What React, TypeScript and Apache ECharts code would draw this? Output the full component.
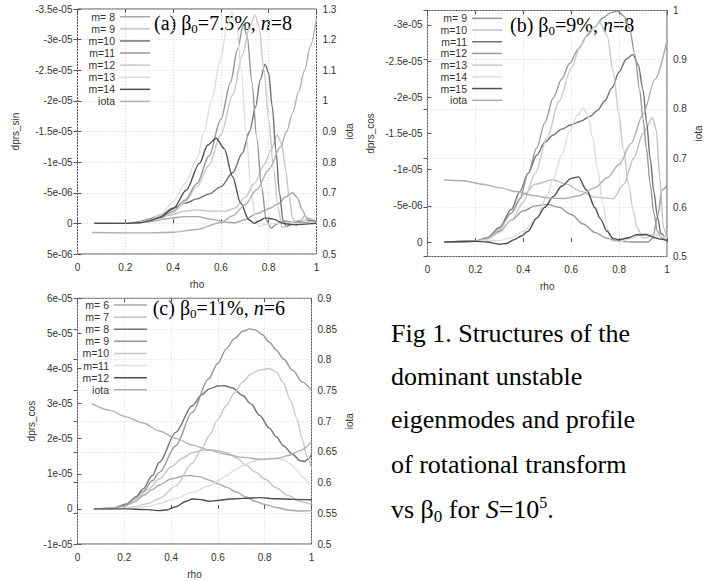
import React, { useEffect, useRef } from "react";
import * as echarts from "echarts";

// ---------- data (dprs values in units of 1e-5; iota raw) ----------
// (a) beta0 = 7.5%, n = 8  (dprs_sin)
const aM8 = [[0.07,0],[0.2,0],[0.3,-0.03],[0.38,-0.08],[0.45,-0.11],[0.5,-0.11],[0.56,-0.07],[0.62,-0.02],[0.66,-0.01],[0.7,-0.06],[0.75,-0.16],[0.8,-0.24],[0.84,-0.32],[0.87,-0.43],[0.9,-0.5],[0.92,-0.42],[0.94,-0.22],[0.96,-0.08],[0.98,-0.04],[1.0,-0.03]];
const aM9 = [[0.07,0],[0.2,0],[0.3,-0.04],[0.38,-0.13],[0.45,-0.2],[0.5,-0.22],[0.56,-0.2],[0.62,-0.2],[0.66,-0.25],[0.7,-0.42],[0.74,-0.65],[0.78,-0.95],[0.81,-1.2],[0.835,-1.44],[0.855,-1.3],[0.87,-0.9],[0.885,-0.45],[0.9,-0.08],[0.915,0.04],[0.93,-0.02],[0.95,-0.12],[0.97,-0.08],[1.0,-0.03]];
const aM10 = [[0.07,0],[0.2,0],[0.25,-0.02],[0.3,-0.07],[0.35,-0.14],[0.4,-0.25],[0.45,-0.33],[0.5,-0.4],[0.55,-0.48],[0.6,-0.6],[0.65,-0.83],[0.69,-1.15],[0.72,-1.5],[0.745,-1.9],[0.765,-2.35],[0.785,-2.6],[0.8,-2.45],[0.815,-1.9],[0.83,-1.2],[0.845,-0.5],[0.86,-0.05],[0.875,0.05],[0.9,0],[0.93,-0.04],[0.96,-0.05],[1.0,-0.02]];
const aM11 = [[0.07,0],[0.25,-0.01],[0.3,-0.04],[0.35,-0.1],[0.4,-0.2],[0.45,-0.38],[0.5,-0.65],[0.55,-1.1],[0.6,-1.7],[0.64,-2.3],[0.67,-2.85],[0.694,-3.25],[0.71,-3.05],[0.73,-2.3],[0.75,-1.4],[0.77,-0.6],[0.79,-0.05],[0.81,0.08],[0.83,0.02],[0.86,-0.04],[0.9,-0.02],[1.0,0]];
const aM12 = [[0.07,0],[0.25,-0.01],[0.3,-0.03],[0.35,-0.08],[0.4,-0.18],[0.45,-0.35],[0.5,-0.6],[0.55,-0.95],[0.6,-1.45],[0.65,-2.1],[0.69,-2.75],[0.72,-3.2],[0.743,-3.4],[0.76,-3.2],[0.78,-2.5],[0.8,-1.7],[0.82,-0.9],[0.84,-0.25],[0.855,0.06],[0.87,0.06],[0.89,-0.02],[0.93,-0.05],[1.0,-0.01]];
const aM13 = [[0.07,0],[0.25,-0.01],[0.3,-0.05],[0.35,-0.15],[0.4,-0.35],[0.45,-0.65],[0.5,-1.05],[0.53,-1.5],[0.56,-2.0],[0.6,-2.7],[0.625,-3.2],[0.645,-3.45],[0.665,-3.25],[0.685,-2.5],[0.705,-1.5],[0.725,-0.6],[0.745,-0.05],[0.76,0.05],[0.78,0.02],[0.82,0],[1.0,0]];
const aM14 = [[0.07,0],[0.2,0],[0.26,-0.01],[0.3,-0.04],[0.345,-0.1],[0.4,-0.24],[0.455,-0.54],[0.51,-0.98],[0.545,-1.28],[0.58,-1.39],[0.614,-1.22],[0.648,-0.77],[0.683,-0.33],[0.717,-0.06],[0.74,0],[0.76,-0.04],[0.786,-0.09],[0.82,-0.07],[0.86,0],[0.9,0.02],[1.0,0]];
const aIota = [[0.06,0.57],[0.2,0.569],[0.3,0.569],[0.4,0.571],[0.5,0.58],[0.6,0.603],[0.65,0.625],[0.7,0.66],[0.75,0.71],[0.8,0.775],[0.85,0.85],[0.875,0.9],[0.9,0.96],[0.925,1.03],[0.95,1.1],[0.975,1.18],[1.0,1.27]];

// (b) beta0 = 9%, n = 8  (dprs_cos)
const bM9 = [[0.07,0],[0.2,-0.01],[0.25,-0.05],[0.3,-0.15],[0.35,-0.3],[0.4,-0.43],[0.45,-0.5],[0.5,-0.52],[0.55,-0.48],[0.6,-0.38],[0.65,-0.25],[0.7,-0.13],[0.75,-0.05],[0.8,-0.01],[0.85,0],[0.92,0],[0.94,-0.05],[0.96,-0.35],[0.98,-0.72],[1.0,-0.78]];
const bM10 = [[0.07,0],[0.2,-0.01],[0.25,-0.05],[0.3,-0.18],[0.35,-0.4],[0.4,-0.65],[0.45,-0.8],[0.52,-0.86],[0.58,-0.8],[0.64,-0.7],[0.7,-0.62],[0.775,-0.6],[0.82,-0.8],[0.86,-1.15],[0.9,-1.5],[0.94,-1.72],[0.955,-1.55],[0.97,-0.9],[0.985,-0.2],[1.0,-0.05]];
const bM11 = [[0.07,0],[0.2,-0.01],[0.25,-0.06],[0.3,-0.2],[0.35,-0.45],[0.386,-0.7],[0.42,-0.95],[0.456,-1.2],[0.49,-1.38],[0.525,-1.48],[0.56,-1.56],[0.6,-1.62],[0.64,-1.67],[0.68,-1.74],[0.71,-1.82],[0.74,-1.95],[0.77,-2.13],[0.8,-2.35],[0.83,-2.53],[0.858,-2.59],[0.88,-2.45],[0.9,-2.1],[0.915,-1.65],[0.93,-1.15],[0.945,-0.7],[0.96,-0.35],[0.975,-0.12],[1.0,-0.02]];
const bM12 = [[0.07,0],[0.2,-0.01],[0.25,-0.06],[0.3,-0.2],[0.35,-0.4],[0.386,-0.6],[0.42,-0.95],[0.456,-1.3],[0.49,-1.65],[0.525,-1.99],[0.56,-2.25],[0.594,-2.47],[0.63,-2.67],[0.664,-2.84],[0.7,-2.98],[0.733,-3.1],[0.765,-3.17],[0.796,-3.19],[0.82,-3.12],[0.844,-2.95],[0.865,-2.6],[0.886,-2.1],[0.9,-1.7],[0.914,-1.3],[0.93,-0.8],[0.945,-0.4],[0.96,-0.15],[0.98,-0.05],[1.0,-0.02]];
const bM13 = [[0.07,0],[0.2,-0.01],[0.25,-0.04],[0.3,-0.13],[0.35,-0.3],[0.4,-0.55],[0.45,-0.95],[0.5,-1.45],[0.55,-1.95],[0.6,-2.4],[0.64,-2.72],[0.68,-2.93],[0.72,-3.03],[0.75,-2.85],[0.775,-2.36],[0.8,-1.75],[0.817,-1.3],[0.84,-0.8],[0.858,-0.45],[0.875,-0.2],[0.9,-0.05],[0.95,-0.1],[1.0,-0.05]];
const bM14 = [[0.07,0],[0.3,-0.02],[0.35,-0.06],[0.4,-0.15],[0.456,-0.33],[0.5,-0.65],[0.525,-0.88],[0.56,-1.2],[0.594,-1.53],[0.625,-1.75],[0.65,-1.85],[0.67,-1.75],[0.69,-1.44],[0.71,-1.0],[0.733,-0.52],[0.75,-0.2],[0.765,-0.02],[0.8,0],[0.85,-0.05],[0.9,-0.12],[0.95,-0.1],[1.0,-0.05]];
const bM15 = [[0.07,0],[0.2,-0.01],[0.25,0],[0.3,0.03],[0.33,0.02],[0.36,-0.03],[0.39,-0.08],[0.42,-0.15],[0.456,-0.33],[0.49,-0.48],[0.525,-0.63],[0.56,-0.77],[0.6,-0.88],[0.63,-0.9],[0.664,-0.72],[0.7,-0.47],[0.72,-0.33],[0.75,-0.15],[0.775,-0.05],[0.8,-0.03],[0.84,-0.06],[0.872,-0.1],[0.914,-0.1],[0.95,-0.06],[0.97,-0.04],[1.0,-0.02]];
const bIota = [[0.07,0.656],[0.15,0.654],[0.23,0.647],[0.3,0.64],[0.37,0.632],[0.44,0.624],[0.51,0.619],[0.57,0.618],[0.63,0.623],[0.7,0.64],[0.75,0.66],[0.8,0.687],[0.85,0.73],[0.9,0.789],[0.95,0.86],[1.0,0.94]];

// (c) beta0 = 11%, n = 6  (dprs_cos)
const cM6 = [[0.07,0],[0.15,0],[0.2,0.08],[0.25,0.22],[0.28,0.38],[0.32,0.55],[0.35,0.68],[0.4,0.85],[0.45,0.93],[0.48,0.95],[0.52,0.92],[0.564,0.82],[0.6,0.72],[0.636,0.62],[0.68,0.48],[0.72,0.34],[0.76,0.22],[0.8,0.13],[0.85,0.04],[0.9,-0.03],[0.95,-0.06],[1.0,-0.05]];
const cM7 = [[0.07,0],[0.15,0],[0.2,0.1],[0.25,0.28],[0.3,0.55],[0.35,0.85],[0.4,1.2],[0.45,1.45],[0.49,1.6],[0.53,1.66],[0.564,1.68],[0.6,1.66],[0.636,1.6],[0.68,1.45],[0.72,1.25],[0.76,1.05],[0.8,0.85],[0.85,0.6],[0.9,0.38],[0.95,0.22],[1.0,0.12]];
const cM8 = [[0.07,0],[0.15,0.02],[0.21,0.14],[0.25,0.35],[0.28,0.57],[0.32,0.95],[0.35,1.33],[0.42,2.18],[0.49,2.94],[0.53,3.25],[0.564,3.42],[0.6,3.5],[0.629,3.51],[0.66,3.45],[0.707,3.23],[0.74,3.0],[0.779,2.66],[0.82,2.3],[0.85,2.05],[0.88,1.8],[0.92,1.55],[0.95,1.38],[0.97,1.35],[0.985,1.42],[1.0,1.55]];
const cM9 = [[0.07,0],[0.15,0.02],[0.207,0.12],[0.25,0.33],[0.28,0.5],[0.32,0.8],[0.35,1.04],[0.42,1.8],[0.49,2.75],[0.56,3.7],[0.6,4.15],[0.636,4.56],[0.67,4.85],[0.707,5.06],[0.736,5.13],[0.76,5.1],[0.79,4.96],[0.82,4.75],[0.85,4.52],[0.88,4.27],[0.92,3.95],[0.96,3.62],[1.0,3.38]];
const cM10 = [[0.07,0],[0.2,0.02],[0.25,0.07],[0.3,0.15],[0.35,0.3],[0.42,0.65],[0.49,1.3],[0.53,1.7],[0.564,2.1],[0.6,2.55],[0.636,2.95],[0.67,3.3],[0.707,3.62],[0.74,3.84],[0.779,3.96],[0.82,4.0],[0.85,3.9],[0.879,3.6],[0.91,3.1],[0.936,2.6],[0.96,2.0],[0.98,1.5],[1.0,1.15]];
const cM11 = [[0.07,0],[0.25,0.02],[0.3,0.07],[0.35,0.15],[0.42,0.3],[0.49,0.47],[0.564,0.66],[0.6,0.8],[0.636,0.95],[0.67,1.1],[0.707,1.23],[0.74,1.33],[0.779,1.4],[0.82,1.44],[0.85,1.45],[0.88,1.4],[0.907,1.3],[0.935,1.12],[0.964,0.9],[0.99,0.72],[1.0,0.68]];
const cM12 = [[0.07,0],[0.2,0],[0.3,-0.02],[0.35,-0.05],[0.38,-0.03],[0.42,0.06],[0.464,0.22],[0.49,0.28],[0.52,0.27],[0.564,0.22],[0.6,0.24],[0.65,0.28],[0.707,0.3],[0.779,0.32],[0.85,0.29],[0.92,0.27],[1.0,0.26]];
const cIota = [[0.06,0.729],[0.136,0.718],[0.207,0.707],[0.28,0.697],[0.35,0.684],[0.42,0.672],[0.49,0.661],[0.564,0.653],[0.636,0.646],[0.707,0.641],[0.779,0.638],[0.85,0.639],[0.9,0.644],[0.95,0.652],[1.0,0.666]];

const bLeftTicks = [-3, -2.5, -2, -1.5, -1, -0.5, 0];
const UNIT = 1e-5;

function sci(v: number): string {
  if (Math.abs(v) < 1e-12) return "0";
  const e = Math.floor(Math.log10(Math.abs(v)) + 1e-9);
  const m = Math.round((v / Math.pow(10, e)) * 10) / 10;
  return String(m) + "e" + (e < 0 ? "-" : "+") + String(Math.abs(e)).padStart(2, "0");
}

const SANS = "Liberation Sans";
const SERIF = "Liberation Serif";
const LBL = "#333";
const BORDER = "#555";

function line(name: string, data: number[][], color: string, xi: number, yi: number) {
  return {
    type: "line",
    name,
    data,
    xAxisIndex: xi,
    yAxisIndex: yi,
    showSymbol: false,
    symbol: "none",
    smooth: 0.3,
    smoothMonotone: "x",
    lineStyle: { color, width: 1.4 },
    itemStyle: { color },
    emphasis: { disabled: true },
  };
}

function xAxes(gi: number) {
  return [
    {
      type: "value", gridIndex: gi, min: 0, max: 1, interval: 0.2, position: "bottom",
      name: "rho", nameLocation: "middle", nameGap: 25,
      nameTextStyle: { fontFamily: SANS, fontSize: 10, color: LBL },
      axisLine: { show: false },
      axisTick: { show: true, inside: true, length: 4, lineStyle: { color: BORDER } },
      axisLabel: { fontFamily: SANS, fontSize: 10, color: LBL, margin: 8 },
      splitLine: { show: true, lineStyle: { color: "#d8d8d8", type: [1, 2], width: 1 } },
    },
    {
      type: "value", gridIndex: gi, min: 0, max: 1, interval: 0.2, position: "top",
      axisLine: { show: false },
      axisTick: { show: true, inside: true, length: 4, lineStyle: { color: BORDER } },
      axisLabel: { show: false },
      splitLine: { show: false },
    },
  ];
}

function leftAxis(gi: number, name: string, min: number, max: number, interval: number, inverse: boolean, nameGap: number, custom?: number[]) {
  const ax: any = {
    type: "value", gridIndex: gi, position: "left", min, max, inverse,
    name, nameLocation: "middle", nameGap,
    nameTextStyle: { fontFamily: SANS, fontSize: 10, color: LBL },
    axisLine: { show: false },
    axisTick: { show: true, inside: true, length: 4, lineStyle: { color: BORDER } },
    axisLabel: { fontFamily: SANS, fontSize: 10, color: LBL, margin: 5, formatter: (v: number) => sci(v * UNIT) },
    splitLine: { show: false },
  };
  if (custom) {
    ax.axisLabel.customValues = custom;
    ax.axisTick.customValues = custom;
  } else {
    ax.interval = interval;
  }
  return ax;
}

function rightAxis(gi: number, min: number, max: number, interval: number, nameGap: number) {
  return {
    type: "value", gridIndex: gi, position: "right", min, max, interval,
    name: "iota", nameLocation: "middle", nameGap,
    nameTextStyle: { fontFamily: SANS, fontSize: 10, color: LBL },
    axisLine: { show: false },
    axisTick: { show: true, inside: true, length: 4, lineStyle: { color: BORDER } },
    axisLabel: { fontFamily: SANS, fontSize: 10, color: LBL, margin: 6 },
    splitLine: { show: true, lineStyle: { color: "#d8d8d8", type: [1, 2], width: 1 } },
  };
}

function legend(prefix: string, names: string[], right: number, top: number, rowH: number, w: number) {
  return {
    orient: "vertical", align: "right", right, top,
    icon: "rect",
    itemWidth: w, itemHeight: 1.5, itemGap: 0,
    data: names.map((n) => prefix + "|" + n),
    formatter: (n: string) => n.split("|")[1],
    textStyle: { fontFamily: SANS, fontSize: 10.5, color: LBL, lineHeight: rowH },
    selectedMode: false,
    padding: 0,
  };
}

const aNames = ["m= 8", "m= 9", "m=10", "m=11", "m=12", "m=13", "m=14", "iota"];
const bNames = ["m= 9", "m=10", "m=11", "m=12", "m=13", "m=14", "m=15", "iota"];
const cNames = ["m= 6", "m= 7", "m= 8", "m= 9", "m=10", "m=11", "m=12", "iota"];

const richTitle = {
  r: { fontFamily: SERIF, fontSize: 20, color: "#111", lineHeight: 24 },
  i: { fontFamily: SERIF, fontSize: 20, fontStyle: "italic", color: "#111", lineHeight: 24 },
  s: { fontFamily: SERIF, fontSize: 13, color: "#111", lineHeight: 12, verticalAlign: "bottom" },
};
const richCap = {
  r: { fontFamily: SERIF, fontSize: 26, color: "#111", lineHeight: 30 },
  i: { fontFamily: SERIF, fontSize: 26, fontStyle: "italic", color: "#111", lineHeight: 30 },
  s: { fontFamily: SERIF, fontSize: 17, color: "#111", lineHeight: 15, verticalAlign: "bottom" },
  p: { fontFamily: SERIF, fontSize: 16, color: "#111", lineHeight: 16, verticalAlign: "top" },
};

function txt(text: string, x: number, y: number, rich: any) {
  return {
    type: "text", x, y, silent: true,
    style: { text, rich, align: "left", verticalAlign: "middle" },
  };
}

export default function App() {
  const ref = useRef<HTMLDivElement>(null);
  useEffect(() => {
    if (!ref.current) return;
    const chart = echarts.init(ref.current, null, { renderer: "svg" });
    const aCol = ["#a6a6a6", "#c4c4c4", "#727272", "#969696", "#c8c8c8", "#dedede", "#4e4e4e", "#b0b0b0"];
    const bCol = ["#969696", "#c0c0c0", "#727272", "#9a9a9a", "#cacaca", "#dcdcdc", "#4e4e4e", "#b0b0b0"];
    const cCol = ["#a6a6a6", "#c4c4c4", "#727272", "#969696", "#c8c8c8", "#dedede", "#4e4e4e", "#b0b0b0"];
    const aData = [aM8, aM9, aM10, aM11, aM12, aM13, aM14];
    const bData = [bM9, bM10, bM11, bM12, bM13, bM14, bM15];
    const cData = [cM6, cM7, cM8, cM9, cM10, cM11, cM12];
    const series: any[] = [];
    aData.forEach((d, k) => series.push(line("a|" + aNames[k], d, aCol[k], 0, 0)));
    series.push(line("a|iota", aIota, aCol[7], 0, 1));
    bData.forEach((d, k) => series.push(line("b|" + bNames[k], d, bCol[k], 2, 2)));
    series.push(line("b|iota", bIota, bCol[7], 2, 3));
    cData.forEach((d, k) => series.push(line("c|" + cNames[k], d, cCol[k], 4, 4)));
    series.push(line("c|iota", cIota, cCol[7], 4, 5));

    chart.setOption({
      animation: false,
      backgroundColor: "#ffffff",
      textStyle: { fontFamily: SANS },
      grid: [
        { left: 77.5, top: 9, width: 239, height: 245, show: true, borderColor: BORDER, borderWidth: 1, backgroundColor: "transparent" },
        { left: 427.5, top: 10.5, width: 239.5, height: 246, show: true, borderColor: BORDER, borderWidth: 1, backgroundColor: "transparent" },
        { left: 77.5, top: 298.3, width: 234, height: 245.7, show: true, borderColor: BORDER, borderWidth: 1, backgroundColor: "transparent" },
      ],
      xAxis: [...xAxes(0), ...xAxes(1), ...xAxes(2)],
      yAxis: [
        leftAxis(0, "dprs_sin", -3.5, 0.5, 0.5, true, 57),
        rightAxis(0, 0.5, 1.3, 0.1, 28),
        leftAxis(1, "dprs_cos", -3.2, 0.2, 0.5, true, 52, bLeftTicks),
        rightAxis(1, 0.5, 1.0, 0.1, 26),
        leftAxis(2, "dprs_cos", -1, 6, 1, false, 41),
        rightAxis(2, 0.5, 0.9, 0.05, 33),
      ],
      legend: [
        legend("a", aNames, 562, 10.7, 12.1, 30),
        legend("b", bNames, 210, 12.5, 11.7, 30),
        legend("c", cNames, 565, 299, 12.1, 33),
      ],
      graphic: [
        txt("{r|(a) β}{s|0}{r|=7.5%, }{i|n}{r|=8}", 154, 23.3, richTitle),
        txt("{r|(b) β}{s|0}{r|=9%, }{i|n}{r|=8}", 510, 25, richTitle),
        txt("{r|(c) β}{s|0}{r|=11%, }{i|n}{r|=6}", 152.7, 308.3, richTitle),
        txt("{r|Fig 1. Structures of the}", 391, 333.3, richCap),
        txt("{r|dominant unstable}", 391, 376.6, richCap),
        txt("{r|eigenmodes and profile}", 391, 419.9, richCap),
        txt("{r|of rotational transform}", 391, 464.9, richCap),
        txt("{r|vs β}{s|0}{r| for }{i|S}{r|=10}{p|5}{r|.}", 391, 509.9, richCap),
      ],
      series,
    });
    return () => chart.dispose();
  }, []);
  return (
    <div
      ref={ref}
      style={{ position: "fixed", left: 0, top: 0, width: 712, height: 581, background: "#fff" }}
    />
  );
}
